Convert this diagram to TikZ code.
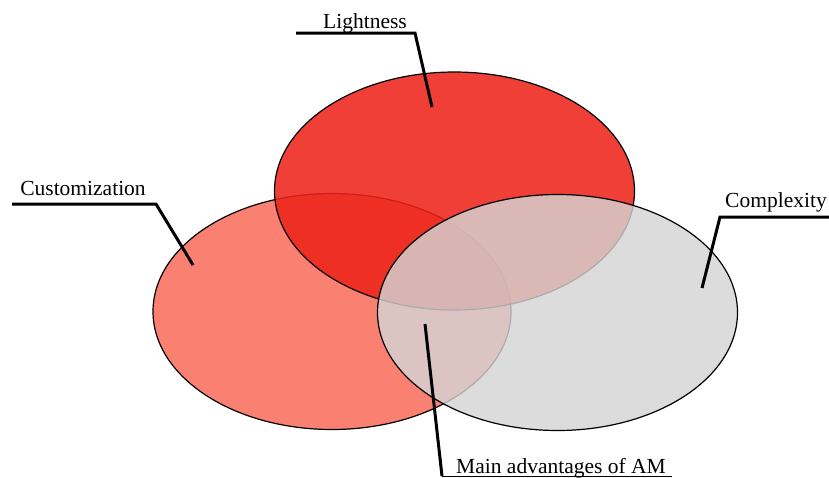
\documentclass[tikz,border=0pt]{standalone}
\usepackage{fontspec}
\setmainfont{Liberation Serif}
\definecolor{salmonfill}{RGB}{250,128,114}
\definecolor{redfill}{RGB}{237,35,25}
\definecolor{greyfill}{RGB}{212,212,212}
\tikzset{
  venn/.style={draw=black, line width=1.2pt},
  leader/.style={draw=black, line width=3pt},
  lbl/.style={font=\fontsize{21.5}{24}\selectfont, anchor=base, inner sep=0pt}
}
\begin{document}
\begin{tikzpicture}[x=1pt,y=-1pt]
\useasboundingbox (0,0) rectangle (829,477);
% ellipses
\path[venn, fill=salmonfill] (332,311.5) ellipse [x radius=179, y radius=118];
\path[venn, fill=redfill, fill opacity=0.87] (454.5,191) ellipse [x radius=180, y radius=119];
\path[venn, fill=greyfill, fill opacity=0.81] (557.5,312.5) ellipse [x radius=180, y radius=118];
% labels
\node[lbl] (light) at (365,28) {Lightness};
\node[lbl] (cust) at (83,195) {Customization};
\node[lbl] (comp) at (776,207) {Complexity};
\node[lbl] (main) at (561,473) {Main advantages of AM};
% leader coordinates
\coordinate (l1) at (296,33);
\coordinate (l2) at (415,33);
\coordinate (l3) at (432,107);
\coordinate (c1) at (12,204);
\coordinate (c2) at (156,204);
\coordinate (c3) at (193,265);
\coordinate (k1) at (829,217);
\coordinate (k2) at (720,217);
\coordinate (k3) at (702,288);
\coordinate (m1) at (425,324);
\coordinate (m2) at (442,476);
\coordinate (m3) at (672,476);
\draw[leader, line join=miter] (l1) -- (l2) -- (l3);
\draw[leader, line join=miter] (c1) -- (c2) -- (c3);
\draw[leader, line join=miter] (k1) -- (k2) -- (k3);
\draw[leader] (m1) -- (m2);
\draw[black, line width=1pt] (m2) -- (m3);
\end{tikzpicture}
\end{document}
